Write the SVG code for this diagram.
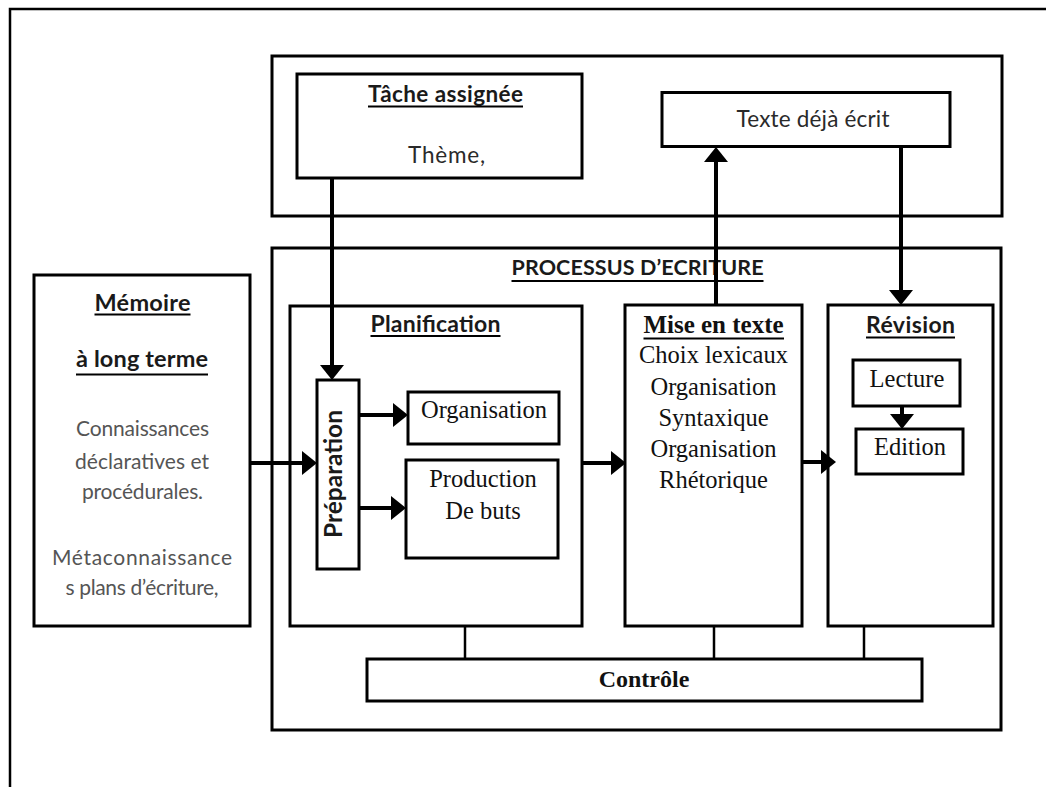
<svg xmlns="http://www.w3.org/2000/svg" width="1046" height="787" viewBox="0 0 1046 787">
  <defs>
    <style>
      .box { fill: #fff; stroke: #000; stroke-width: 3; }
      .frame { fill: none; stroke: #000; stroke-width: 2.5; }
      .arrow { fill: none; stroke: #000; stroke-width: 4; marker-end: url(#head); }
      .link { fill: none; stroke: #000; stroke-width: 2.5; }
      .ul { stroke: #000; stroke-width: 2; }
      .sans { font-family: Lato, "Liberation Sans", Arial, sans-serif; }
      .serif { font-family: "Liberation Serif", "Times New Roman", serif; }
      .title { font-weight: bold; fill: #1a1a1a; }
      .body { fill: #2a2a2a; }
      .grey { fill: #555; }
      .mid { text-anchor: middle; }
    </style>
    <marker id="head" markerUnits="userSpaceOnUse" viewBox="0 0 15 24" markerWidth="15" markerHeight="24" refX="9" refY="12" orient="auto">
      <path d="M0,0 L15,12 L0,24 Z" fill="#000"/>
    </marker>
  </defs>

  <rect width="1046" height="787" fill="#fff"/>

  <!-- page frame (continues past the right and bottom edges) -->
  <path class="frame" d="M10,787 V9 H1046"/>

  <!-- context of the task -->
  <g id="contexte">
    <rect class="box" x="272" y="56" width="730" height="160"/>
  </g>

  <g id="tache">
    <rect class="box" x="297" y="74" width="285" height="104"/>
    <text class="sans title mid" x="445.5" y="101.5" font-size="22.5" textLength="155">Tâche assignée</text>
    <line class="ul" x1="368" y1="106.5" x2="523" y2="106.5"/>
    <text class="sans body mid" x="446.5" y="163" font-size="22.5" textLength="77">Thème,</text>
  </g>

  <g id="texte-ecrit">
    <rect class="box" x="662" y="92.5" width="288" height="54"/>
    <text class="sans body mid" x="813" y="126.5" font-size="22.5" textLength="153">Texte déjà écrit</text>
  </g>

  <!-- long-term memory -->
  <g id="memoire">
    <rect class="box" x="34" y="275" width="216" height="351"/>
    <text class="sans title mid" x="142.5" y="311" font-size="23.5" textLength="96">Mémoire</text>
    <line class="ul" x1="94.5" y1="314.5" x2="190.5" y2="314.5"/>
    <text class="sans title mid" x="142" y="366.5" font-size="23.5" textLength="132">à long terme</text>
    <line class="ul" x1="76" y1="374.5" x2="208" y2="374.5"/>
    <text class="sans grey mid" x="142.5" y="436" font-size="21" textLength="133">Connaissances</text>
    <text class="sans grey mid" x="142" y="469" font-size="21" textLength="134">déclaratives et</text>
    <text class="sans grey mid" x="142.5" y="499" font-size="21" textLength="121">procédurales.</text>
    <text class="sans grey mid" x="142" y="565" font-size="21" textLength="180">Métaconnaissance</text>
    <text class="sans grey mid" x="142" y="595" font-size="21" textLength="153">s plans d’écriture,</text>
  </g>

  <!-- writing process -->
  <g id="processus">
    <rect class="box" x="272" y="248" width="729" height="482"/>
    <text class="sans title mid" x="637.5" y="274.5" font-size="21.5" textLength="252">PROCESSUS D’ECRITURE</text>
    <line class="ul" x1="511.5" y1="281" x2="763.5" y2="281"/>
  </g>

  <g id="planification">
    <rect class="box" x="290" y="306" width="292" height="320"/>
    <text class="sans title mid" x="435.5" y="332" font-size="23" textLength="130">Planification</text>
    <line class="ul" x1="370.5" y1="336" x2="500.5" y2="336"/>
  </g>

  <g id="preparation">
    <rect class="box" x="317" y="380" width="42" height="189"/>
    <text class="sans title mid" font-size="24.5" textLength="128" transform="translate(342,474) rotate(-90)">Préparation</text>
  </g>

  <g id="organisation">
    <rect class="box" x="408" y="392" width="151" height="52"/>
    <text class="serif mid" x="484" y="418" font-size="24.5" fill="#111">Organisation</text>
  </g>

  <g id="production">
    <rect class="box" x="406" y="460" width="152" height="98"/>
    <text class="serif mid" x="483" y="487" font-size="24.5" fill="#111">Production</text>
    <text class="serif mid" x="483" y="519" font-size="24.5" fill="#111">De buts</text>
  </g>

  <g id="mise-en-texte">
    <rect class="box" x="625" y="305" width="177" height="321"/>
    <text class="serif mid" x="713.5" y="333" font-size="25" font-weight="bold" fill="#111">Mise en texte</text>
    <line class="ul" x1="643.5" y1="338.5" x2="784" y2="338.5"/>
    <text class="serif mid" x="713.5" y="363" font-size="24.5" fill="#111">Choix lexicaux</text>
    <text class="serif mid" x="713.5" y="395" font-size="24.5" fill="#111">Organisation</text>
    <text class="serif mid" x="713.5" y="426" font-size="24.5" fill="#111">Syntaxique</text>
    <text class="serif mid" x="713.5" y="457" font-size="24.5" fill="#111">Organisation</text>
    <text class="serif mid" x="713.5" y="488" font-size="24.5" fill="#111">Rhétorique</text>
  </g>

  <g id="revision">
    <rect class="box" x="828" y="305" width="165" height="321"/>
    <text class="sans title mid" x="910.5" y="333" font-size="23" textLength="89">Révision</text>
    <line class="ul" x1="866" y1="337.5" x2="955" y2="337.5"/>
  </g>

  <g id="lecture">
    <rect class="box" x="853" y="360" width="107" height="46"/>
    <text class="serif mid" x="907" y="387" font-size="24.5" fill="#111">Lecture</text>
  </g>

  <g id="edition">
    <rect class="box" x="856" y="429" width="107" height="45"/>
    <text class="serif mid" x="910" y="455" font-size="24.5" fill="#111">Edition</text>
  </g>

  <g id="controle">
    <rect class="box" x="367" y="659" width="555" height="42"/>
    <text class="serif mid" x="644" y="687" font-size="24" font-weight="bold" fill="#111">Contrôle</text>
  </g>

  <!-- connectors -->
  <g id="connecteurs">
    <line class="arrow" x1="332" y1="178" x2="332" y2="374"/>
    <line class="arrow" x1="250" y1="463" x2="311" y2="463"/>
    <line class="arrow" x1="359" y1="415" x2="402" y2="415"/>
    <line class="arrow" x1="359" y1="508" x2="400" y2="508"/>
    <line class="arrow" x1="582" y1="463" x2="620" y2="463"/>
    <line class="arrow" x1="802" y1="462" x2="830" y2="462"/>
    <line class="arrow" x1="716" y1="305" x2="716" y2="153"/>
    <line class="arrow" x1="901" y1="147" x2="901" y2="299"/>
    <line class="arrow" x1="902" y1="406" x2="902" y2="423"/>
    <line class="link" x1="465" y1="626" x2="465" y2="659"/>
    <line class="link" x1="714" y1="626" x2="714" y2="659"/>
    <line class="link" x1="864" y1="626" x2="864" y2="659"/>
  </g>
</svg>
